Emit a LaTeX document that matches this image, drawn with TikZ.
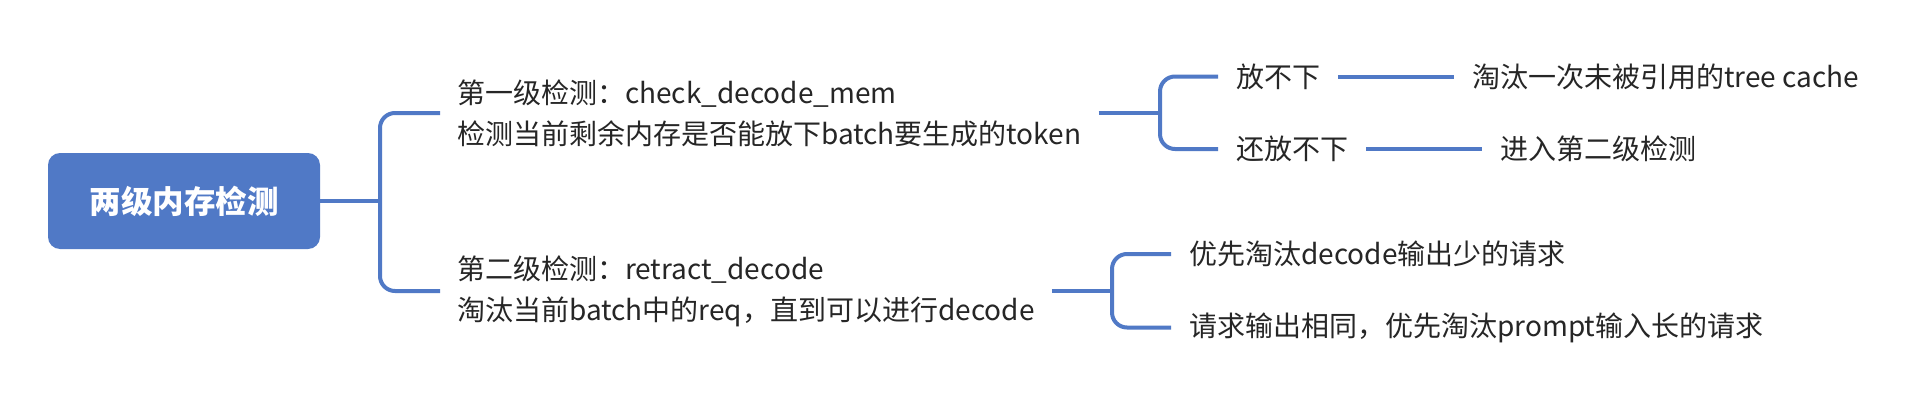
\documentclass[tikz,border=0pt]{standalone}
\usepackage{fontspec}
\setmainfont{Noto Sans CJK SC}
\definecolor{mblue}{HTML}{5079C6}
\definecolor{mtext}{HTML}{262626}
\tikzset{
  conn/.style={draw=mblue, line width=4pt, rounded corners=15pt},
  rootbox/.style={fill=mblue, rounded corners=12pt, minimum width=272pt, minimum height=96pt,
    text=white, font=\bfseries\fontsize{31.5}{36}\selectfont, inner sep=0pt},
  topic/.style={anchor=west, align=left, inner xsep=17pt, inner ysep=0pt, text=mtext,
    font=\fontsize{28}{41}\selectfont},
  leaf/.style={anchor=west, inner xsep=18pt, inner ysep=0pt, text=mtext,
    font=\fontsize{28}{33}\selectfont}
}
\begin{document}
\begin{tikzpicture}[x=1pt, y=-1pt]
\useasboundingbox (0,0) rectangle (1924,404);
\fill[white] (0,0) rectangle (1924,404);

\node[rootbox] (root) at (184,201) {两级内存检测};

\node[topic] (c1) at (440,113) {第一级检测：check\_decode\_mem\\检测当前剩余内存是否能放下batch要生成的token};
\node[topic] (c2) at (440,291) {第二级检测：retract\_decode\\淘汰当前batch中的req，直到可以进行decode};

\coordinate (j1) at (380,201);
\coordinate (j2) at (1160,113);
\coordinate (j3) at (1112,291);

\node[leaf] (l1) at (1218,76.5) {放不下};
\node[leaf] (l2) at (1218,149) {还放不下};
\node[leaf] (r1) at (1454,76.5) {淘汰一次未被引用的tree cache};
\node[leaf] (r2) at (1482,149) {进入第二级检测};

\node[leaf] (m1) at (1171,254) {优先淘汰decode输出少的请求};
\node[leaf] (m2) at (1171,327.5) {请求输出相同，优先淘汰prompt输入长的请求};

\draw[conn] (root.east) -- (j1);
\draw[conn] (c1.west) -| (j1) |- (c2.west);
\draw[conn] (c1.east) -- (j2);
\draw[conn] (l1.west) -| (j2) |- (l2.west);
\draw[conn] (l1.east) -- (r1.west);
\draw[conn] (l2.east) -- (r2.west);
\draw[conn] (c2.east) -- (j3);
\draw[conn] (m1.west) -| (j3) |- (m2.west);
\end{tikzpicture}
\end{document}
